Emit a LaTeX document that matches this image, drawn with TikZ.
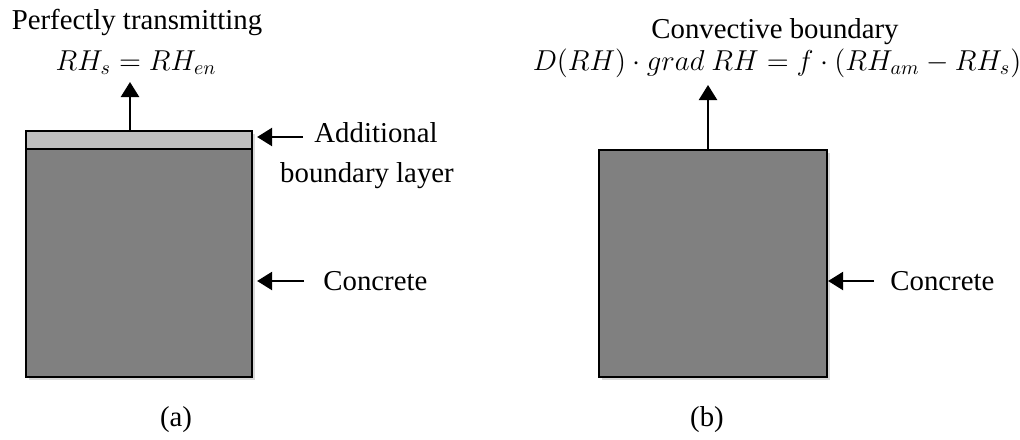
\documentclass[tikz,border=0pt]{standalone}
\usepackage{fontspec}
\setmainfont{Liberation Serif}
\usetikzlibrary{arrows.meta,shadows}
\definecolor{concgray}{RGB}{128,128,128}
\definecolor{layergray}{RGB}{191,191,191}
\begin{document}
\begin{tikzpicture}[x=0.5pt,y=-0.5pt,
  lbl/.style={font=\fontsize{14.4}{17}\selectfont, inner sep=0pt},
  blockshadow/.style={drop shadow={shadow xshift=1.5pt, shadow yshift=-1.5pt, opacity=0.3}},
  concbox/.style={draw=black, line width=1.1pt, fill=concgray, inner sep=0pt, blockshadow},
  layerbox/.style={draw=black, line width=1.1pt, fill=layergray, inner sep=0pt, blockshadow},
  arr/.style={-{Triangle[length=7.5pt,width=9pt]}, line width=1.2pt}]
\useasboundingbox (0,0) rectangle (1020,439);

% (a) boxes
\node[layerbox, minimum width=113pt, minimum height=9pt] (layer) at (139,140) {};
\node[concbox, minimum width=113pt, minimum height=114pt] (concL) at (139,263) {};
% (b) box
\node[concbox, minimum width=114pt, minimum height=113.5pt] (concR) at (713,263.5) {};

% texts
\node[lbl, anchor=base] (ptxt) at (137,29) {Perfectly transmitting};
\node[lbl, anchor=base] (eqL) at (136,70) {$RH_s = RH_{en}$};
\node[lbl, anchor=base] (add1) at (376,142) {Additional};
\node[lbl, anchor=base] (add2) at (367,182) {boundary layer};
\node[lbl, anchor=base west] (concLtxt) at (323,290) {Concrete};

\node[lbl, anchor=base] (cbtxt) at (775,38) {Convective boundary};
\node[lbl, anchor=base, font=\fontsize{14}{17}\selectfont] (eqR) at (777,70) {$D(RH)\cdot grad\ RH = f\cdot(RH_{am} - RH_s)$};
\node[lbl, anchor=base west] (concRtxt) at (890,290) {Concrete};

\node[lbl, anchor=base] (capa) at (176,426) {(a)};
\node[lbl, anchor=base] (capb) at (707,426) {(b)};

% arrows
\coordinate (tipL) at (130,82);
\draw[arr] (tipL |- layer.north) -- (tipL);
\coordinate (tipR) at (708,85);
\draw[arr] (tipR |- concR.north) -- (tipR);

\coordinate (addT) at (303,137);
\draw[arr, shorten >=2pt] (addT) -- (addT -| layer.east);
\coordinate (cLT) at (304,281);
\draw[arr, shorten >=2pt] (cLT) -- (cLT -| concL.east);
\coordinate (cRT) at (874,281);
\draw[arr] (cRT) -- (cRT -| concR.east);
\end{tikzpicture}
\end{document}
